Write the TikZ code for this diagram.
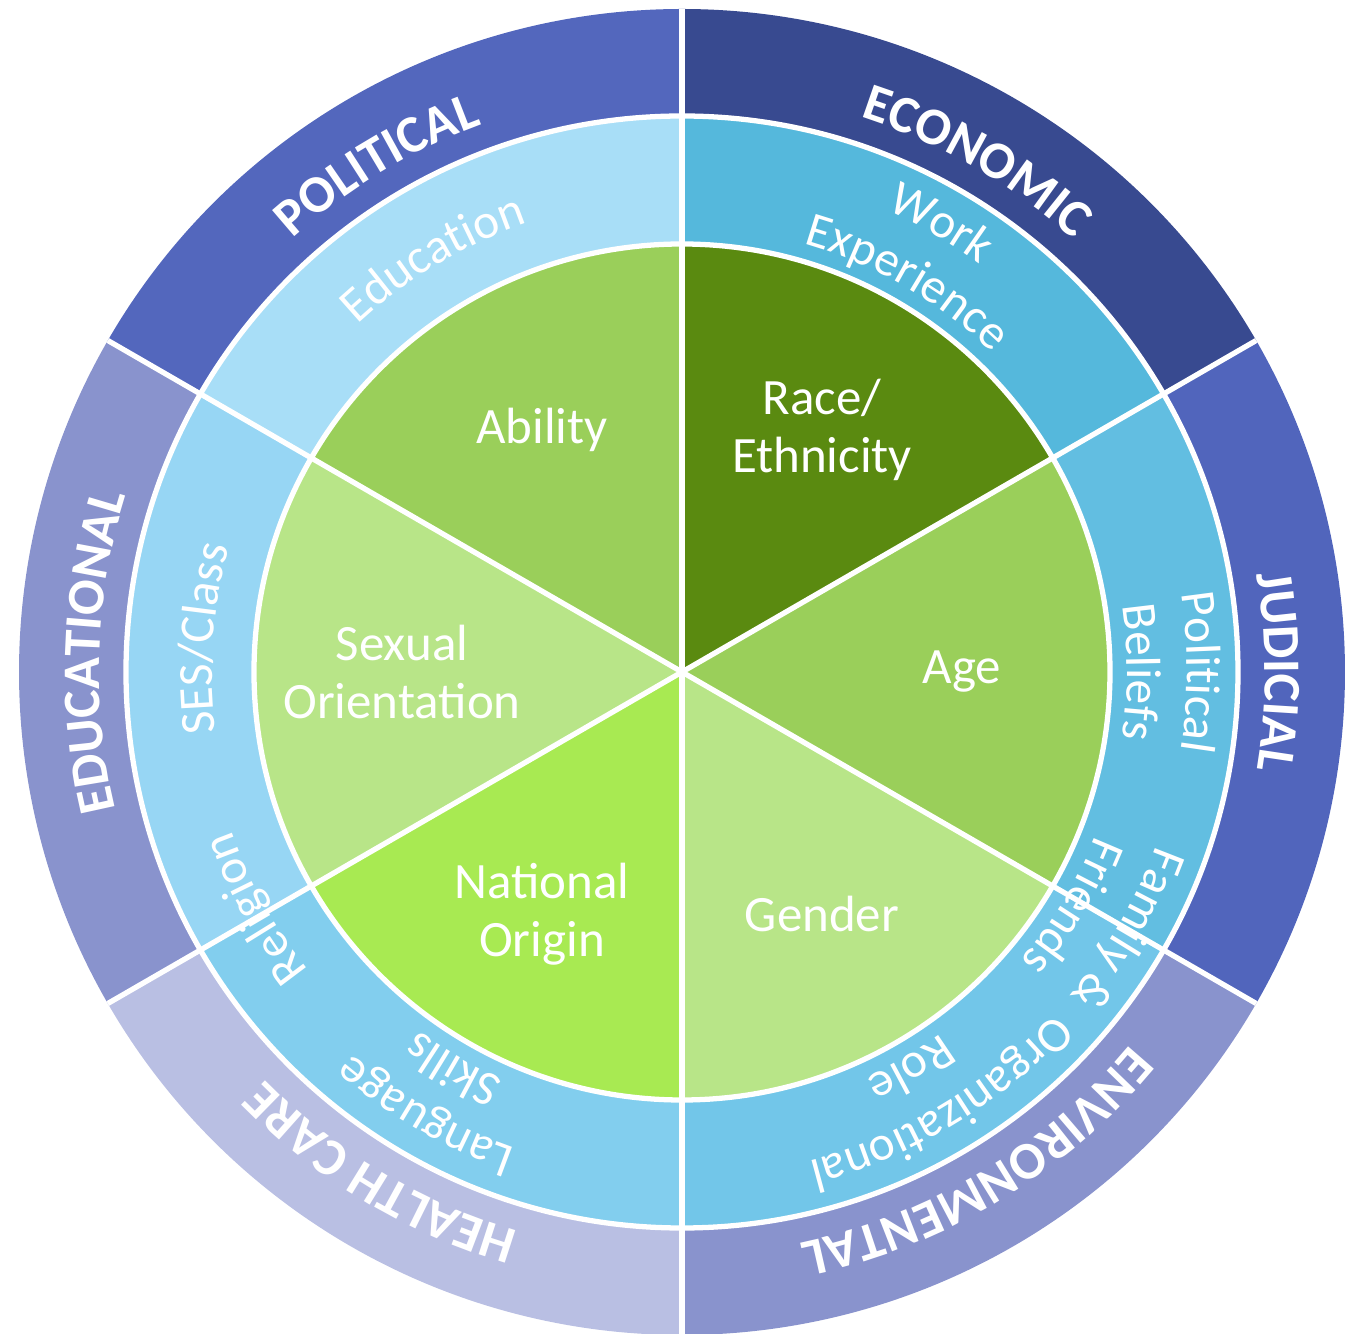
\documentclass[tikz,border=0pt]{standalone}
\usepackage{fontspec}
\setmainfont{Carlito}
\usetikzlibrary{decorations.text}

\definecolor{economicBlue}{HTML}{384A90}
\definecolor{politicalBlue}{HTML}{5367BD}
\definecolor{judicialBlue}{HTML}{5165BC}
\definecolor{environBlue}{HTML}{8993CD}
\definecolor{healthBlue}{HTML}{B9BFE3}
\definecolor{workSky}{HTML}{55B8DC}
\definecolor{educationSky}{HTML}{A8DEF7}
\definecolor{sesSky}{HTML}{97D6F4}
\definecolor{languageSky}{HTML}{82CEEE}
\definecolor{familySky}{HTML}{72C6E9}
\definecolor{beliefSky}{HTML}{62BEE1}
\definecolor{raceGreen}{HTML}{5A8A10}
\definecolor{midGreen}{HTML}{9ACF5A}
\definecolor{paleGreen}{HTML}{B8E588}
\definecolor{limeGreen}{HTML}{A8EA52}

\begin{document}
\begin{tikzpicture}[x=0.02cm, y=0.02cm,
        wheelline/.style={white, line width=3pt}, % white gaps between the pieces
        corelabel/.style={text=white, align=center, font=\fontsize{29}{33}\selectfont},
        outertext/.style={decorate, decoration={text along path, text align=center,
            text color=white, text={|\fontsize{30}{36}\selectfont\bfseries|#1}}},
        ringtext/.style={decorate, decoration={text along path, text align=center,
            text color=white, text={|\fontsize{28}{34}\selectfont|#1}}},
    ]
    \useasboundingbox (-682,-662) rectangle (670,672);

    % outer ring
    \foreach \a/\col in {30/economicBlue, 90/politicalBlue, 150/environBlue,
                         210/healthBlue, 270/environBlue, 330/judicialBlue}
        \fill[\col] (\a:556) arc[start angle=\a, delta angle=60, radius=556]
            -- (\a+60:663) arc[start angle=\a+60, delta angle=-60, radius=663] -- cycle;
    % middle ring
    \foreach \a/\col in {30/workSky, 90/educationSky, 150/sesSky,
                         210/languageSky, 270/familySky, 330/beliefSky}
        \fill[\col] (\a:428) arc[start angle=\a, delta angle=60, radius=428]
            -- (\a+60:556) arc[start angle=\a+60, delta angle=-60, radius=556] -- cycle;
    % core
    \foreach \a/\col in {30/raceGreen, 90/midGreen, 150/paleGreen,
                         210/limeGreen, 270/paleGreen, 330/midGreen}
        \fill[\col] (0,0) -- (\a:428) arc[start angle=\a, delta angle=60, radius=428] -- cycle;

    \draw[wheelline] (0,0) circle (428) (0,0) circle (556);
    \foreach \a in {30,90,...,330}
        \draw[wheelline] (0,0) -- (\a:663);

    \node[corelabel] (race) at (60:280) {Race/\\Ethnicity};
    \node[corelabel] (ability) at (120:280) {Ability};
    \node[corelabel] (sexual) at (180:280) {Sexual\\Orientation};
    \node[corelabel] (national) at (240:280) {National\\Origin};
    \node[corelabel] (gender) at (300:280) {Gender};
    \node[corelabel] (age) at (0:280) {Age};

    % middle ring texts
    \path[ringtext={Education}] (151:475) arc (151:91:475);
    \path[ringtext={Work}] (90:505) arc (90:30:505);
    \path[ringtext={Experience}] (90:445) arc (90:30:445);
    \path[ringtext={Political}] (30:505) arc (30:-30:505);
    \path[ringtext={Beliefs}] (30:445) arc (30:-30:445);
    \path[ringtext={Family {\&}}] (0:505) arc (0:-60:505);
    \path[ringtext={Friends}] (-1:445) arc (-1:-61:445);
    \path[ringtext={Organizational}] (-29:505) arc (-29:-89:505);
    \path[ringtext={Role}] (-30:445) arc (-30:-90:445);
    \path[ringtext={Language}] (270:505) arc (270:210:505);
    \path[ringtext={Skills}] (270:445) arc (270:210:445);
    \path[ringtext={Religion}] (239:478) arc (239:179:478);
    \path[ringtext={SES/Class}] (206:470) arc (206:146:470);

    % outer ring texts
    \path[outertext={POLITICAL}] (151:583) arc (151:91:583);
    \path[outertext={ECONOMIC}] (90:583) arc (90:30:583);
    \path[outertext={JUDICIAL}] (30:583) arc (30:-30:583);
    \path[outertext={ENVIRONMENTAL}] (-19:583) arc (-19:-99:583);
    \path[outertext={HEALTH CARE}] (274:583) arc (274:204:583);
    \path[outertext={EDUCATIONAL}] (213:583) arc (213:143:583);
\end{tikzpicture}
\end{document}
